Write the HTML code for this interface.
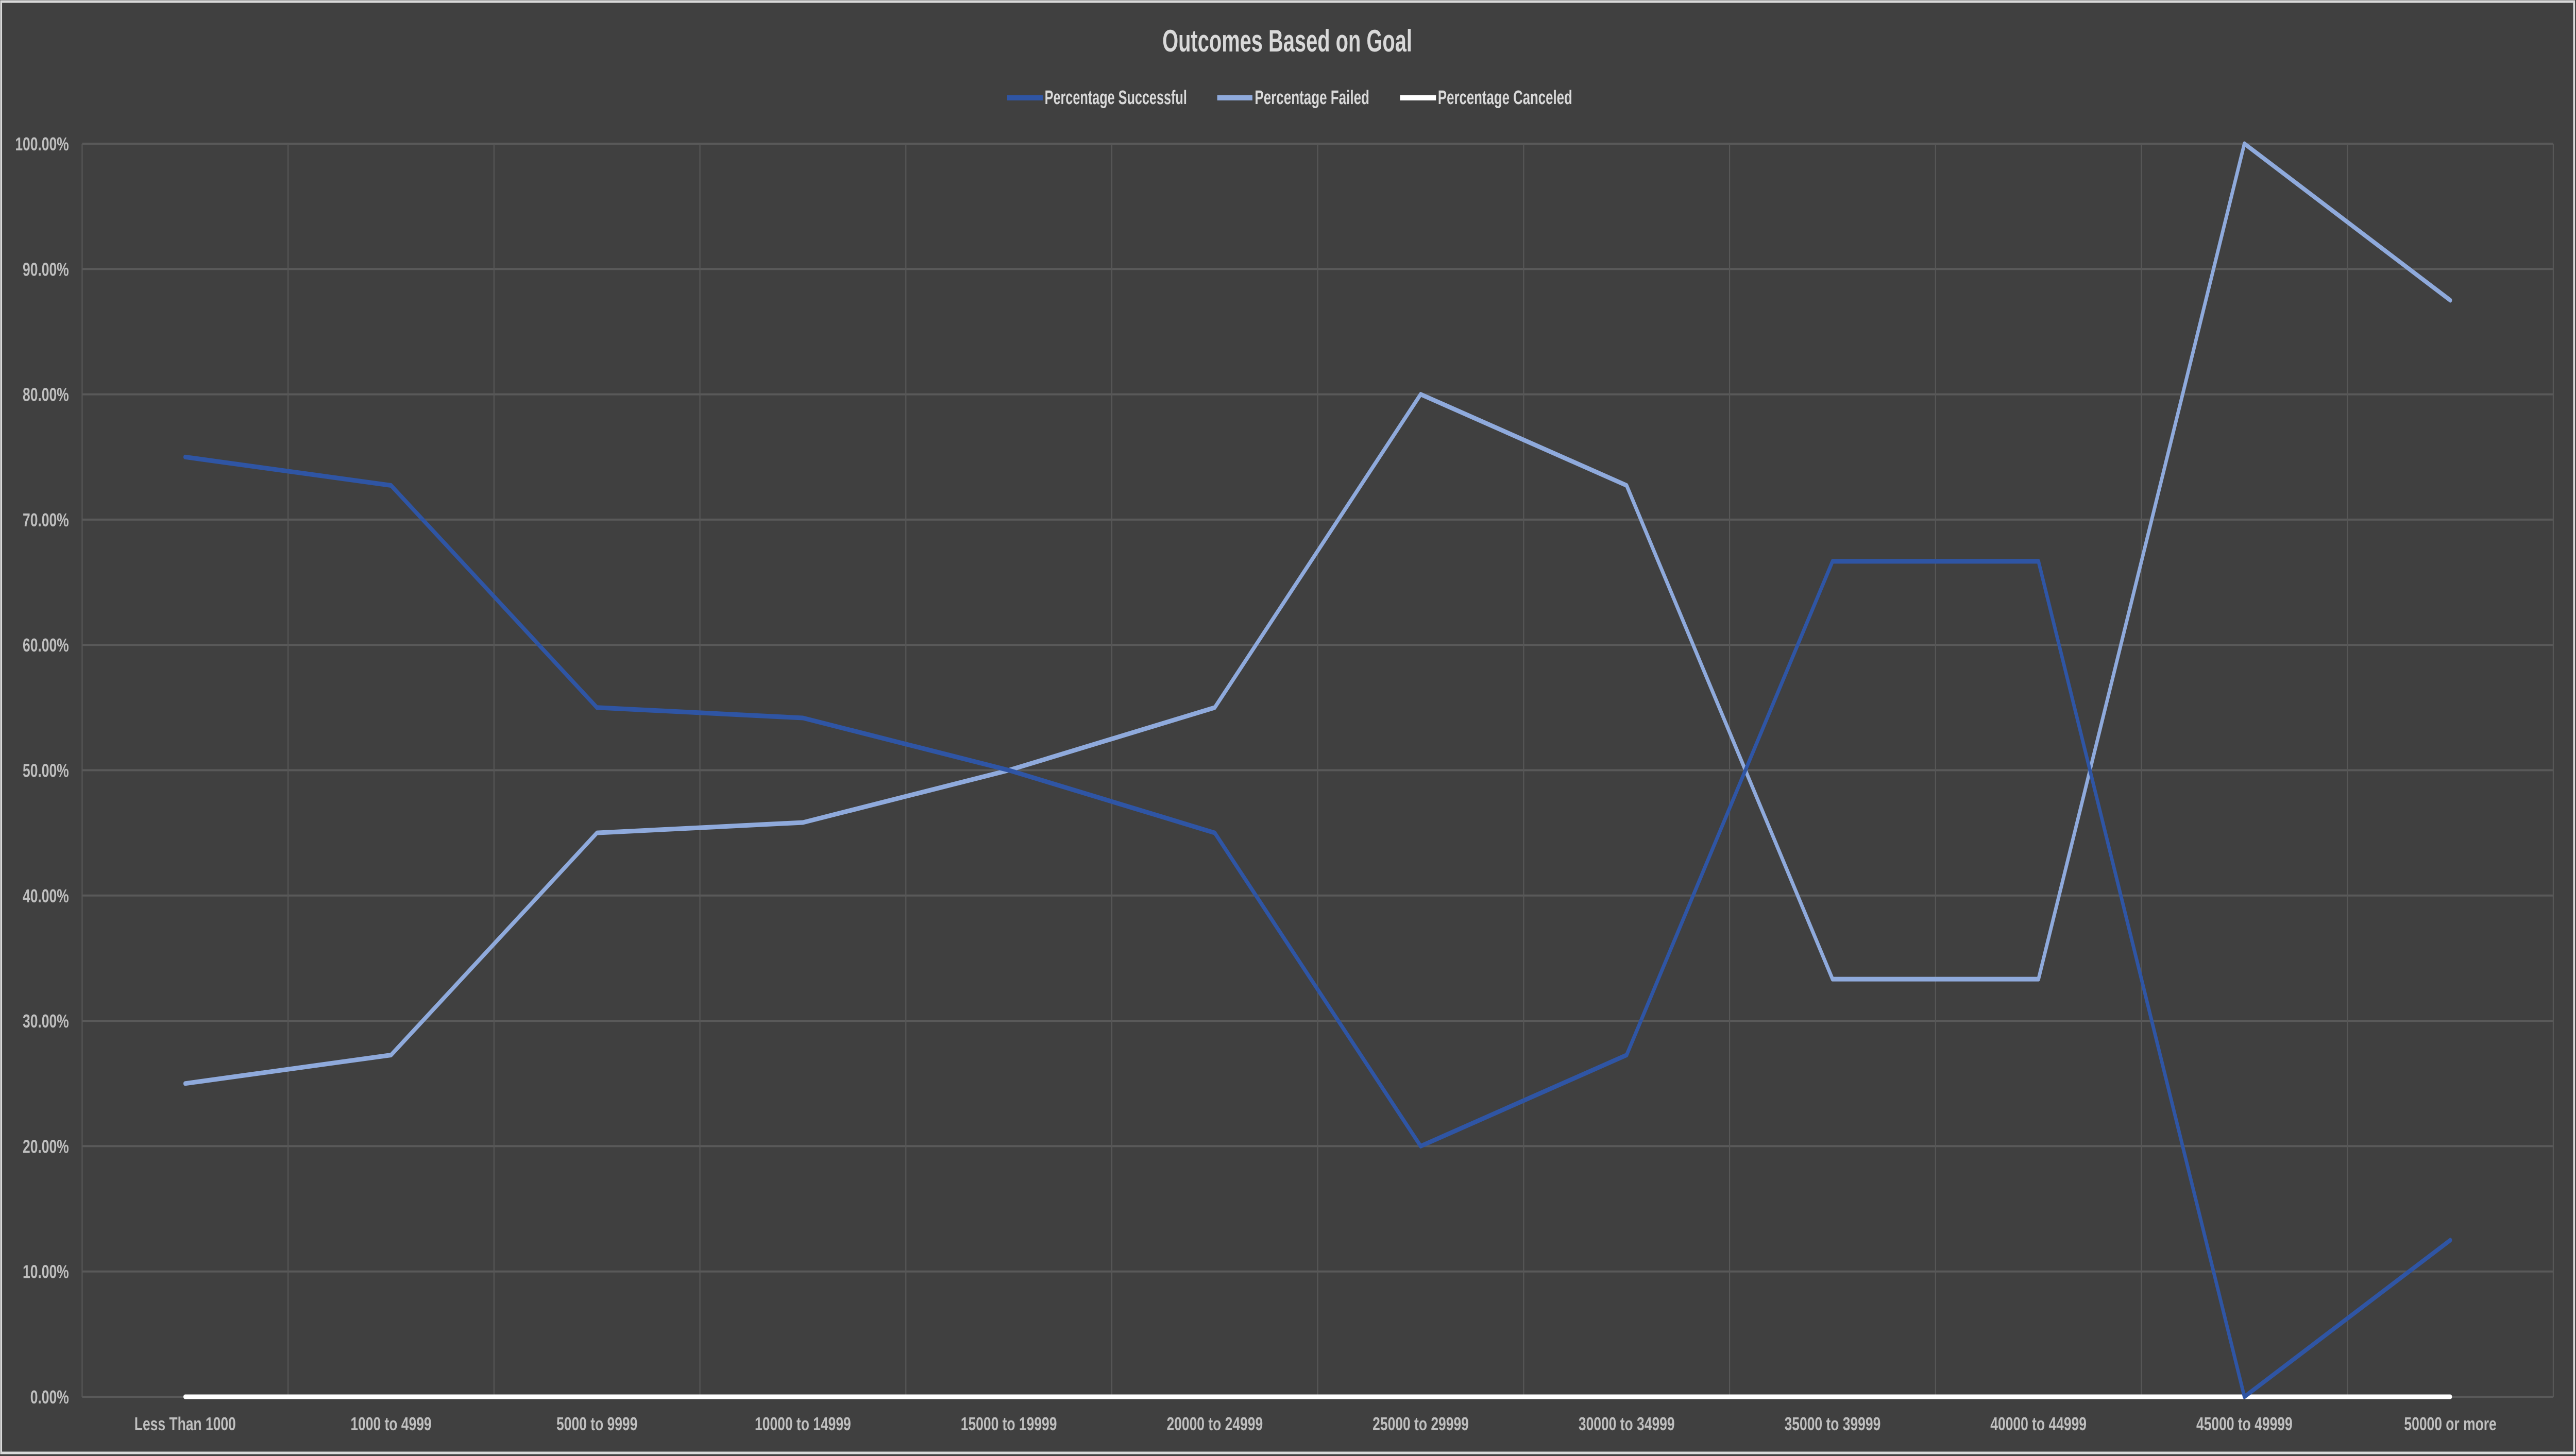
<!DOCTYPE html>
<html><head><meta charset="utf-8"><style>
html,body{margin:0;padding:0;background:#404040;width:100%;height:100%;overflow:hidden;}
svg{display:block;width:100vw;height:100vh;}
text{font-family:"Liberation Sans",sans-serif;font-weight:bold;}
</style></head><body>
<svg id="chart" viewBox="0 0 6806 2827" preserveAspectRatio="none" xmlns="http://www.w3.org/2000/svg">
<rect x="3" y="3" width="6798" height="2818" fill="#404040" stroke="#d9d9d9" stroke-width="5"/>
<text x="3401" y="100" text-anchor="middle" font-size="60" fill="#d9d9d9" textLength="660" lengthAdjust="spacingAndGlyphs">Outcomes Based on Goal</text>
<g>
<g><line x1="2661" y1="190" x2="2755" y2="190" stroke="#2f55a4" stroke-width="10"/><text x="2760" y="202" font-size="38" fill="#d9d9d9" textLength="376" lengthAdjust="spacingAndGlyphs">Percentage Successful</text></g>
<g><line x1="3216" y1="190" x2="3309" y2="190" stroke="#8faadc" stroke-width="10"/><text x="3315" y="202" font-size="38" fill="#d9d9d9" textLength="303" lengthAdjust="spacingAndGlyphs">Percentage Failed</text></g>
<g><line x1="3699" y1="190" x2="3794" y2="190" stroke="#ffffff" stroke-width="10"/><text x="3799" y="202" font-size="38" fill="#d9d9d9" textLength="355" lengthAdjust="spacingAndGlyphs">Percentage Canceled</text></g>
</g>
<g id="grid"></g>
<g id="yaxis"></g>
<g id="xaxis"></g>
<g id="series"></g>
</svg>
<script>
const categories = ["Less Than 1000","1000 to 4999","5000 to 9999","10000 to 14999","15000 to 19999","20000 to 24999","25000 to 29999","30000 to 34999","35000 to 39999","40000 to 44999","45000 to 49999","50000 or more"];
const successful = [75, 72.73, 55, 54.17, 50, 45, 20, 27.27, 66.67, 66.67, 0, 12.5];
const failed = [25, 27.27, 45, 45.83, 50, 55, 80, 72.73, 33.33, 33.33, 100, 87.5];
const canceled = [0,0,0,0,0,0,0,0,0,0,0,0];
const yTicks = [0,10,20,30,40,50,60,70,80,90,100];
const yTickLabels = ["0.00%","10.00%","20.00%","30.00%","40.00%","50.00%","60.00%","70.00%","80.00%","90.00%","100.00%"];

const NS = "http://www.w3.org/2000/svg";
const L = 217, R = 6746, T = 279, B = 2712;
const step = (R - L) / categories.length;
function xPos(i){ return L + step * (i + 0.5); }
function yPos(v){ return B - (v / 100) * (B - T); }
function mk(tag, attrs, parent){ const e = document.createElementNS(NS, tag); for (const k in attrs) e.setAttribute(k, attrs[k]); parent.appendChild(e); return e; }

const grid = document.getElementById('grid');
const yaxis = document.getElementById('yaxis');
const xaxis = document.getElementById('xaxis');
const series = document.getElementById('series');

yTicks.forEach((t, i) => {
  const ln = mk('line', {x1:L, x2:R, y1:yPos(t), y2:yPos(t), stroke:'#595959', 'stroke-width':4}, grid);
  
  
  const tx = mk('text', {x:182, y:yPos(t)+13, 'text-anchor':'end', 'font-size':36, fill:'#bfbfbf'}, yaxis);
  tx.textContent = yTickLabels[i];
  
  
});
for (let i = 0; i <= categories.length; i++) {
  const x = L + step * i;
  const ln = mk('line', {x1:x, x2:x, y1:T, y2:B, stroke:'#575757', 'stroke-width':3}, grid);
  
  
}
categories.forEach((c, i) => {
  const tx = mk('text', {x:xPos(i), y:2777, 'text-anchor':'middle', 'font-size':36, fill:'#bfbfbf'}, xaxis);
  tx.textContent = c;
  
  
});
function drawLine(vals, color, name){
  const pts = vals.map((v, i) => xPos(i).toFixed(1) + ',' + yPos(v).toFixed(1)).join(' ');
  const pl = mk('polyline', {points:pts, fill:'none', stroke:color, 'stroke-width':9, 'stroke-linejoin':'round', 'stroke-linecap':'round'}, series);
  
  
}
drawLine(canceled, '#ffffff', 'line-percentage-canceled');
drawLine(failed, '#8faadc', 'line-percentage-failed');
drawLine(successful, '#2f55a4', 'line-percentage-successful');
</script>
</body></html>
